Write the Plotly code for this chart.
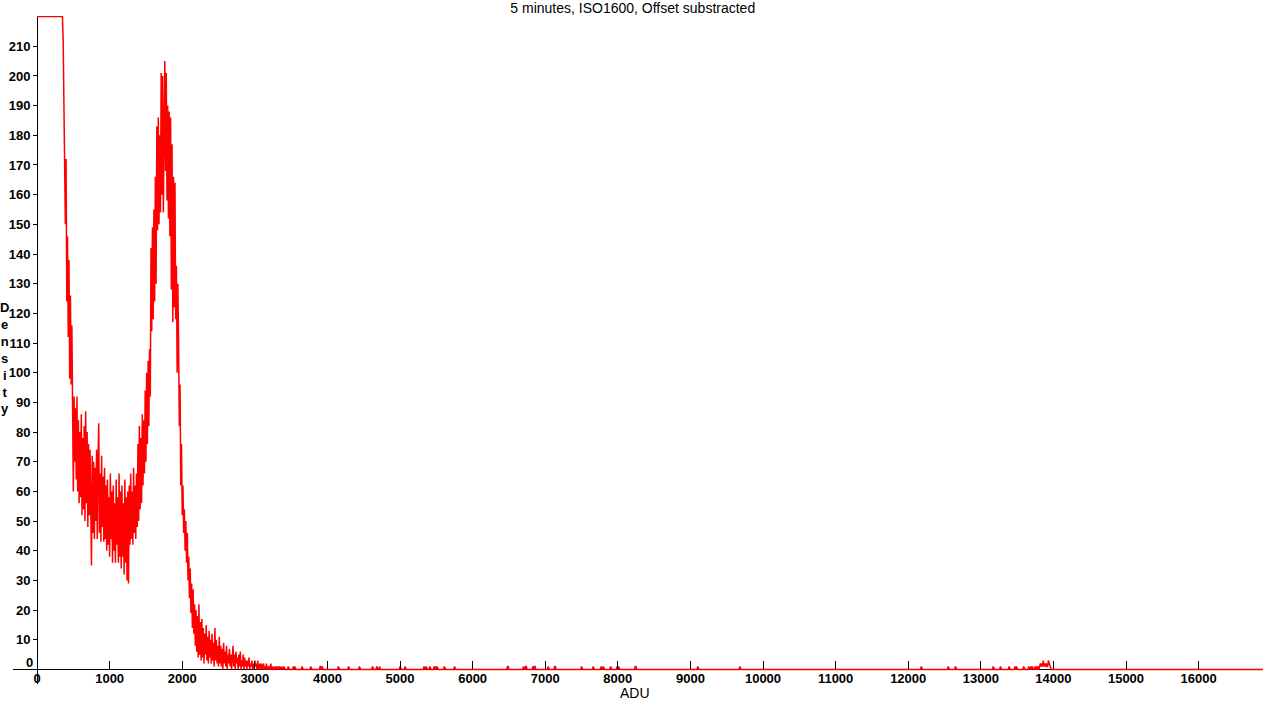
import numpy as np
import plotly.graph_objects as go

BIN = 10  # ADU per histogram bin

# Histogram counts starting at ADU 0, one value per 10-ADU bin (clipped at 220)
dense_counts = [
    220, 220, 220, 220, 220, 220, 220, 220, 220, 220,
    220, 220, 220, 220, 220, 220, 220, 220, 220, 220,
    220, 220, 220, 220, 220, 220, 220, 220, 220, 220,
    220, 220, 220, 220, 220, 220,
    212, 188, 176, 150, 172, 124, 146, 112, 138, 98,
    126, 96, 116, 84, 60, 92, 70, 88, 64, 92,
    60, 84, 56, 80, 58, 86, 52, 78, 54, 82,
    50, 87, 56, 80, 48, 76, 52, 74, 50, 35,
    72, 46, 70, 44, 68, 50, 74, 44, 70, 83,
    46, 66, 43, 72, 48, 65, 43, 68, 44, 62,
    40, 64, 42, 58, 38, 66, 44, 60, 36, 62,
    40, 56, 36, 64, 42, 58, 36, 66, 38, 60,
    34, 62, 38, 56, 32, 64, 36, 58, 30, 60,
    29, 62, 42, 66, 44, 60, 42, 68, 46, 62,
    44, 66, 48, 76, 50, 82, 54, 78, 56, 86,
    62, 84, 66, 94, 70, 100, 76, 104, 82, 108,
    92, 142, 114, 149, 118, 155, 124, 166, 130, 183,
    148, 186, 150, 180, 154, 201, 160, 200, 154, 196,
    205, 168, 201, 158, 190, 152, 188, 146, 186, 128,
    177, 117, 166, 122, 164, 118, 136, 100, 130, 110,
    82, 96, 62, 76, 52, 62, 46, 54, 40, 50,
    36, 46, 30, 38, 24, 34, 19, 29, 14, 27,
    12, 22, 8, 20, 6, 18, 4, 22, 5, 16,
    3, 17, 4, 14, 2, 12, 5, 15, 3, 11,
    2, 13, 4, 10, 2, 12, 3, 9, 1, 14,
    3, 10, 2, 8, 1, 11, 2, 8, 1, 7,
    0, 9, 2, 6, 1, 8, 0, 5, 2, 7,
    1, 5, 0, 4, 8, 1, 5, 0, 6, 2,
    4, 0, 5, 1, 6, 0, 3, 1, 5, 0,
    4, 1, 3, 0, 3, 1, 4, 0, 2, 1,
    3, 0, 2, 0, 3, 1, 2, 0, 3, 0,
    1, 2, 0, 2, 0, 1, 2, 0, 1, 0,
    2, 0, 1, 0, 1, 0, 2, 0, 1, 0,
    0, 1, 0, 1, 0, 0, 1, 0, 1, 0,
    0, 1, 0, 0, 1, 0,
]

# Isolated sparse bins further out
spike_adu = [3460, 3530, 3550, 3650, 3770, 3900, 3910, 3930, 4150, 4290,
             4440, 4620, 4680, 4720, 5000, 5070, 5330, 5360, 5410, 5470,
             5490, 5510, 5610, 5750, 6480, 6490, 6700, 6730, 6740, 6830,
             6850, 6860, 7040, 7130, 7140, 7500, 7660, 7770, 7800, 7900,
             7990, 8010, 8240, 8250, 9100, 9680, 12180, 12550, 12650, 13170,
             13270, 13390, 13470, 13490, 13590, 13660, 13690, 13710, 13750, 13770,
             13790, 13810, 13820, 13830, 13840, 13850, 13860, 13870, 13880, 13890,
             13900, 13910, 13920, 13930, 13940, 13950]
spike_counts = [1, 1, 1, 1, 1, 1, 1, 1, 1, 1,
                1, 1, 1, 1, 1, 1, 1, 1, 1, 1,
                1, 1, 1, 1, 1, 1, 1, 1, 1, 1,
                1, 1, 1, 1, 1, 1, 1, 1, 1, 1,
                1, 1, 1, 1, 1, 1, 1, 1, 1, 1,
                1, 1, 1, 1, 1, 1, 1, 1, 1, 1,
                1, 1, 2, 1, 2, 1, 3, 1, 2, 1,
                2, 1, 1, 3, 2, 1]

x_ticks = [0, 1000, 2000, 3000, 4000, 5000, 6000, 7000, 8000,
           9000, 10000, 11000, 12000, 13000, 14000, 15000, 16000]
y_ticks = [10, 20, 30, 40, 50, 60, 70, 80, 90, 100,
           110, 120, 130, 140, 150, 160, 170, 180, 190, 200, 210]

X_END = 16900
n_bins = X_END // BIN + 1
adu = np.arange(n_bins) * BIN
counts = np.zeros(n_bins)
counts[:len(dense_counts)] = dense_counts
for a, c in zip(spike_adu, spike_counts):
    counts[a // BIN] = c

XR = [-331, 16887]
YR = [-4.9, 220.2]

fig = go.Figure()
fig.add_trace(go.Scatter(x=adu, y=counts, mode="lines",
                         line=dict(color="#ff0000", width=1.5),
                         hoverinfo="skip"))

tickfont = dict(family="Liberation Sans, Arial", size=13, color="black", weight="bold")

fig.update_layout(
    width=1263, height=717,
    margin=dict(l=13, r=0, t=16, b=33, autoexpand=False),
    paper_bgcolor="white", plot_bgcolor="white",
    showlegend=False,
    xaxis=dict(range=XR, anchor="free", position=(0 - YR[0]) / (YR[1] - YR[0]),
               tickvals=x_ticks, ticktext=[str(v) for v in x_ticks],
               ticks="inside", ticklen=8, tickcolor="black",
               tickwidth=1, tickfont=tickfont, showgrid=False, showline=False,
               zeroline=True, zerolinecolor="black", zerolinewidth=1,
               automargin=False),
    yaxis=dict(range=YR, anchor="free", position=(0 - XR[0]) / (XR[1] - XR[0]),
               tickvals=y_ticks, ticktext=[str(v) for v in y_ticks],
               ticks="outside", ticklen=4, tickcolor="black",
               tickwidth=1, tickfont=tickfont, showgrid=False, showline=False,
               zeroline=True, zerolinecolor="black", zerolinewidth=1,
               automargin=False),
    title=dict(text="5 minutes, ISO1600, Offset substracted", xref="container",
               x=0.501, yref="container", y=1 - 8 / 717, yanchor="middle",
               xanchor="center", automargin=False,
               font=dict(family="Liberation Sans, Arial", size=14, color="black")),
)

def px_x(p):
    return (p - 13) / 1250

def px_y(p):
    return (684 - p) / 668

lab = dict(family="Liberation Sans, Arial", size=14, color="black")
dens = dict(family="Liberation Sans, Arial", size=13, color="black", weight="bold")
fig.add_annotation(text="0", x=px_x(35), y=px_y(662), xref="paper", yref="paper",
                   xanchor="right", yanchor="middle", showarrow=False, font=tickfont)
fig.add_annotation(text="ADU", x=px_x(635), y=px_y(693), xref="paper", yref="paper",
                   xanchor="center", yanchor="middle", showarrow=False, font=lab)
fig.add_annotation(text="D<br>e<br>n<br>s<br>i<br>t<br>y", x=px_x(4), y=px_y(358),
                   xref="paper", yref="paper", xanchor="center", yanchor="middle",
                   showarrow=False, font=dens)

fig.write_html("out.html", config={"displayModeBar": False},
               post_script="document.body.style.margin='0';document.body.style.overflow='hidden';")
